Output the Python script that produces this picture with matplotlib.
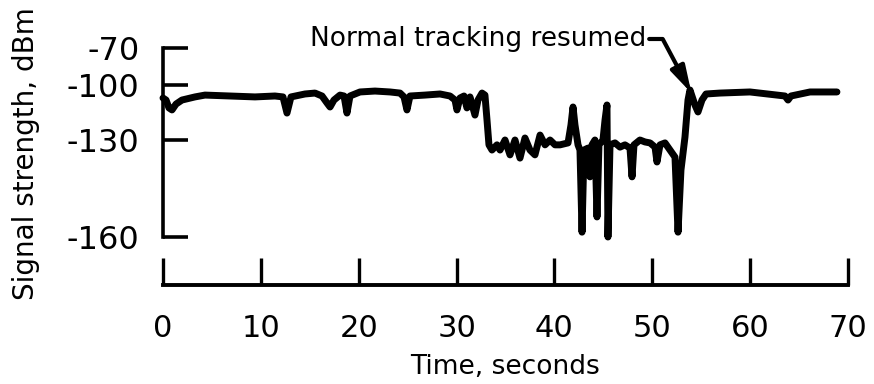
import numpy as np
import matplotlib.pyplot as plt

# signal trace
time_s = [0.0, 0.31, 0.61, 0.92, 1.33, 1.94, 3.27, 4.29, 6.85, 9.40, 11.44, 12.26,
          12.67, 13.08, 14.51, 15.53, 16.25, 16.76, 17.07, 17.47, 18.09, 18.50,
          18.80, 19.11, 20.13, 21.66, 23.20, 24.22, 24.63, 24.93, 25.24, 26.77,
          28.31, 29.33, 29.84, 30.04, 30.35, 30.76, 31.06, 31.37, 31.88, 32.19,
          32.60, 32.90, 33.11, 33.31, 33.62, 34.13, 34.44, 34.95, 35.46, 35.97,
          36.48, 36.99, 37.50, 38.01, 38.53, 39.04, 39.55, 40.06, 40.57, 41.39,
          41.69, 41.90, 42.10, 42.41, 42.61, 42.82, 43.02, 43.43, 43.63, 43.84,
          44.14, 44.35, 44.55, 44.96, 45.17, 45.37, 45.47, 45.68, 46.19, 46.70,
          47.21, 47.72, 47.93, 48.13, 48.74, 49.25, 49.77, 50.28, 50.48, 50.79,
          51.30, 51.81, 52.32, 52.63, 52.93, 53.34, 53.65, 53.85, 54.36, 54.67,
          55.08, 55.49, 56.92, 59.98, 63.56, 63.87, 64.17, 66.12, 68.87]
signal_dbm = [-107.1, -108.2, -112.5, -113.6, -110.4, -108.2, -106.5, -105.5, -106.0,
              -106.5, -106.0, -106.5, -115.3, -106.5, -104.9, -104.4, -106.0, -109.8,
              -112.0, -108.2, -105.5, -106.0, -115.3, -106.0, -103.8, -103.3, -103.8,
              -104.4, -106.5, -113.6, -106.0, -105.5, -104.9, -106.0, -108.2, -113.6,
              -107.1, -106.0, -112.5, -106.5, -116.4, -108.2, -104.4, -105.5, -119.1,
              -131.5, -133.1, -131.5, -133.1, -130.0, -134.6, -130.0, -135.6, -128.9,
              -133.1, -134.6, -127.3, -131.5, -130.0, -131.5, -131.5, -130.9, -121.8,
              -112.0, -121.8, -131.5, -133.1, -158.5, -133.1, -132.5, -141.4, -131.5,
              -130.0, -153.8, -131.5, -130.0, -119.1, -110.9, -160.0, -131.5, -130.9,
              -132.2, -131.5, -132.5, -141.4, -131.5, -130.0, -130.6, -130.9, -132.2,
              -136.8, -131.5, -130.9, -133.1, -135.3, -158.5, -139.3, -128.4, -108.2,
              -102.7, -110.9, -114.7, -108.2, -104.9, -104.4, -103.8, -106.0, -108.2,
              -106.0, -103.8, -103.8]

y_ticks = [-160, -130, -100, -70]
x_ticks = [0, 10, 20, 30, 40, 50, 60, 70]
# the original graph paper is not evenly spaced in dBm
y_tick_pos = [-237.0, -140.0, -85.0, -48.0]


def _piecewise(v, xp, fp):
    v = np.asarray(v, dtype=float)
    flat = np.atleast_1d(v).astype(float)
    out = np.interp(flat, xp, fp)
    lo = flat < xp[0]
    hi = flat > xp[-1]
    out[lo] = fp[0] + (flat[lo] - xp[0]) * (fp[1] - fp[0]) / (xp[1] - xp[0])
    out[hi] = fp[-1] + (flat[hi] - xp[-1]) * (fp[-1] - fp[-2]) / (xp[-1] - xp[-2])
    return out.reshape(v.shape)


def fwd(v):
    return _piecewise(v, y_ticks, y_tick_pos)


def inv(p):
    return _piecewise(p, y_tick_pos, y_ticks)


plt.rcParams['font.family'] = 'DejaVu Sans'
fig = plt.figure(figsize=(8.74, 3.84), dpi=100)
ax = fig.add_axes([163 / 874, 1 - 237 / 384, 685 / 874, 189 / 384])

ax.plot(time_s, signal_dbm, color='black', lw=5, solid_joinstyle='round',
        solid_capstyle='round', clip_on=False)

ax.set_yscale('function', functions=(fwd, inv))
ax.set_xlim(0, 70)
ax.set_ylim(-160, -70)
ax.set_yticks(y_ticks)
ax.set_yticklabels([str(t) for t in y_ticks])
ax.set_xticks(x_ticks)
ax.minorticks_off()

for s in ['top', 'right']:
    ax.spines[s].set_visible(False)
ax.spines['left'].set_linewidth(2.6)
ax.spines['bottom'].set_linewidth(2.8)
ax.spines['bottom'].set_position(('outward', 34.5))

ax.tick_params(axis='y', direction='in', length=18, width=2.6, pad=17, labelsize=23)
ax.tick_params(axis='x', direction='in', length=19.5, width=2.4, pad=21, labelsize=22)

ax.set_ylabel('Signal strength, dBm', fontsize=20)
ax.yaxis.set_label_coords(-0.18, 0.44)
ax.set_xlabel('Time, seconds', fontsize=19)
ax.xaxis.set_label_coords(0.5, -0.62)

ax.annotate('Normal tracking resumed', xy=(54.0, -104.4), xytext=(49.4, -62.7),
            ha='right', va='center', fontsize=19, annotation_clip=False,
            arrowprops=dict(arrowstyle='-|>,head_length=1.6,head_width=0.45',
                            connectionstyle='angle,angleA=0,angleB=-62,rad=0',
                            color='black', lw=3, mutation_scale=10,
                            shrinkA=0, shrinkB=0, relpos=(1, 0.5)))

fig.savefig('out.png', dpi=100, facecolor='white')
